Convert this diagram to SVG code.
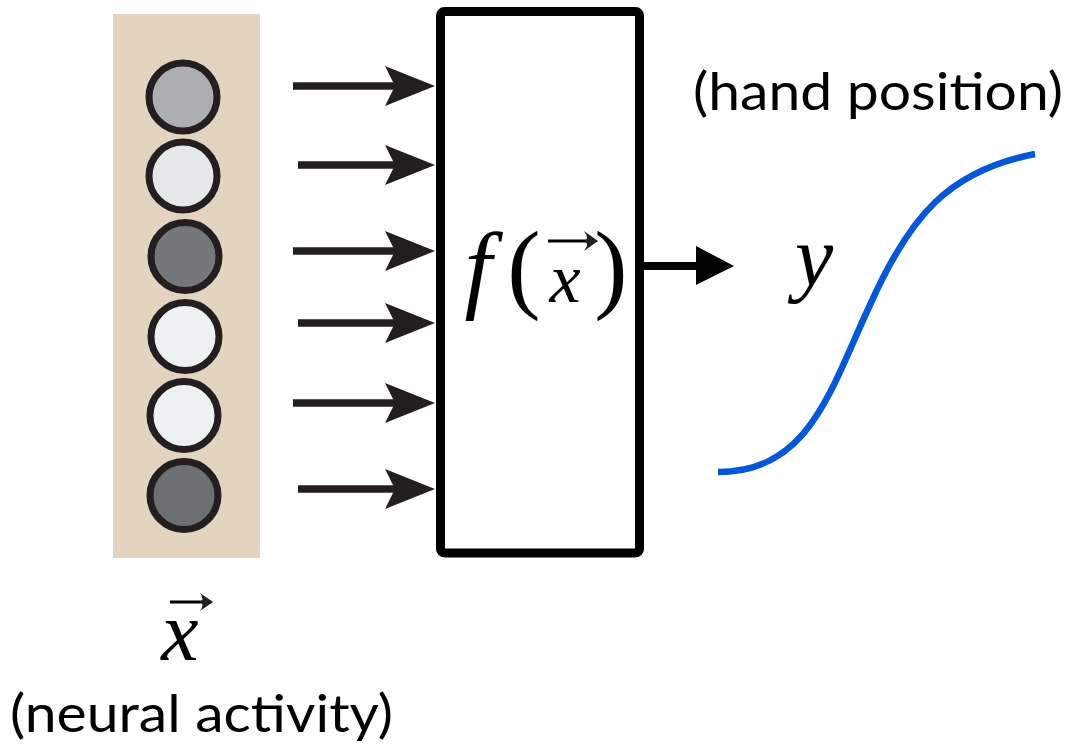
<svg xmlns="http://www.w3.org/2000/svg" width="1070" height="744" viewBox="0 0 1070 744">
<style>
.cell{stroke:#231f20;stroke-width:7}
.shaft{stroke:#231f20;stroke-width:7.5;fill:none}
.head{fill:#231f20}
.math{font-family:"Liberation Serif","DejaVu Serif",serif;fill:#000}
.it{font-style:italic}
.label{font-family:Lato,"Open Sans",sans-serif;font-size:52px;fill:#000}
.acc{stroke:#000;stroke-width:3;fill:none}
</style>
<defs>
<path id="inhead" d="M0,0 L-50,-20 L-40,0 L-50,20 Z"/>
</defs>
<rect width="1070" height="744" fill="#fff"/>
<g id="population">
<rect x="113" y="14" width="147" height="544" fill="#e3d4bf"/>
<circle class="cell" cx="183" cy="97" r="34" fill="#adaeb1"/>
<circle class="cell" cx="183" cy="176" r="34" fill="#e6e7e9"/>
<circle class="cell" cx="185" cy="256.5" r="34" fill="#76777a"/>
<circle class="cell" cx="185" cy="336.5" r="34" fill="#eff0f2"/>
<circle class="cell" cx="184" cy="415.5" r="34" fill="#eff0f2"/>
<circle class="cell" cx="184" cy="495.5" r="34" fill="#6e6f72"/>
</g>
<g id="xlabel">
<text class="math it" x="180" y="660" font-size="84" text-anchor="middle">x</text>
<path class="acc" d="M170,602 L211,602"/>
<path class="head" d="M213,602 L200,593 Q205,600 200,602 Q205,604 200,611 Z"/>
<text class="label" x="10" y="732" textLength="383" lengthAdjust="spacingAndGlyphs">(neural activity)</text>
</g>
<g id="function">
<rect x="440.5" y="11.5" width="199" height="541.5" rx="4" fill="#fff" stroke="#000" stroke-width="9"/>
<text class="math it" x="478" y="300" font-size="98" text-anchor="middle">f</text>
<text class="math" x="524" y="300" font-size="100" text-anchor="middle">(</text>
<text class="math it" x="565" y="302" font-size="70" text-anchor="middle">x</text>
<path class="acc" d="M548,241 L595,241"/>
<path class="head" d="M598,241 L584,231 Q590,239 584,241 Q590,243 584,251 Z"/>
<text class="math" x="611" y="300" font-size="100" text-anchor="middle">)</text>
</g>
<g id="output">
<text class="math it" x="814" y="285" font-size="86" text-anchor="middle">y</text>
<text class="label" x="693" y="110" font-size="49" textLength="370" lengthAdjust="spacingAndGlyphs">(hand position)</text>
<path d="M718,472 C810,472 830,390 870,305 C910,215 950,170 1035,154" fill="none" stroke="#0457d6" stroke-width="6.5"/>
</g>
<g id="connectors">
<line class="shaft" x1="293" y1="86" x2="400" y2="86"/>
<use href="#inhead" class="head" transform="translate(435,86)"/>
<line class="shaft" x1="298" y1="165" x2="400" y2="165"/>
<use href="#inhead" class="head" transform="translate(435,165)"/>
<line class="shaft" x1="293" y1="251" x2="400" y2="251"/>
<use href="#inhead" class="head" transform="translate(435,251)"/>
<line class="shaft" x1="298" y1="323" x2="400" y2="323"/>
<use href="#inhead" class="head" transform="translate(435,323)"/>
<line class="shaft" x1="293" y1="403" x2="400" y2="403"/>
<use href="#inhead" class="head" transform="translate(435,403)"/>
<line class="shaft" x1="298" y1="489" x2="400" y2="489"/>
<use href="#inhead" class="head" transform="translate(435,489)"/>
<line x1="644" y1="266" x2="700" y2="266" stroke="#000" stroke-width="8"/>
<path d="M696,246 L734,266 L696,285 Z" fill="#000"/>
</g>
</svg>
